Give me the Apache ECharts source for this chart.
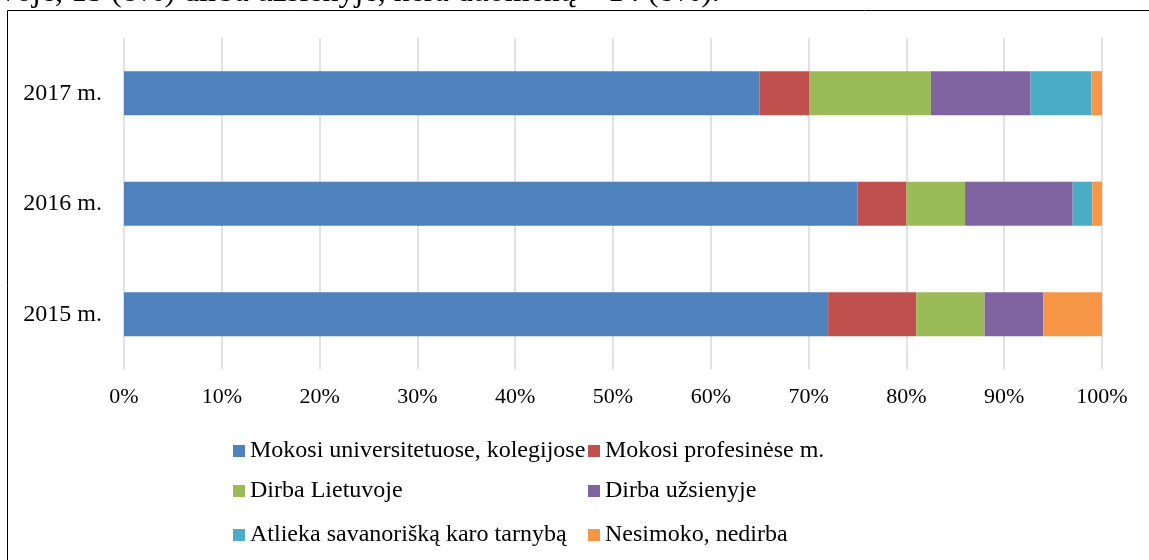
<!DOCTYPE html>
<html>
<head>
<meta charset="utf-8">
<title>Abiturientų veikla</title>
<script src="https://cdn.jsdelivr.net/npm/echarts@6/dist/echarts.min.js"></script>
<style>
  html, body { margin: 0; padding: 0; background: #fff; }
  #chart { width: 1149px; height: 560px; }
</style>
</head>
<body>
<div id="chart"></div>
<script>
// Years on the category axis (bottom to top)
var categories = ['2015 m.', '2016 m.', '2017 m.'];

// Share of graduates (%) by activity, per year
var studyUniversity = [72, 75, 65];
var studyVocational = [9, 5, 5.1];
var workLithuania = [7, 6, 12.4];
var workAbroad = [6, 11, 10.2];
var militaryService = [0, 2, 6.2];
var notStudyingOrWorking = [6, 1, 1.1];

var seriesNames = [
  'Mokosi universitetuose, kolegijose',
  'Mokosi profesinėse m.',
  'Dirba Lietuvoje',
  'Dirba užsienyje',
  'Atlieka savanorišką karo tarnybą',
  'Nesimoko, nedirba'
];
var seriesValues = [studyUniversity, studyVocational, workLithuania, workAbroad, militaryService, notStudyingOrWorking];
var colors = ['#4F81BD', '#C0504D', '#9BBB59', '#8064A2', '#4BACC6', '#F79646'];

var xTicks = { min: 0, max: 100, interval: 10 };
var fontFamily = '"Liberation Serif", "Times New Roman", serif';

// Legend laid out in two columns, three rows
var legendCols = [233, 588];
var legendRows = [439, 479, 523];

var legends = seriesNames.map(function (name, i) {
  return {
    left: legendCols[i % 2],
    top: legendRows[Math.floor(i / 2)],
    data: [name],
    icon: 'rect',
    itemWidth: 12,
    itemHeight: 12,
    selectedMode: false,
    padding: 0,
    textStyle: { fontFamily: fontFamily, fontSize: 24, color: '#000' }
  };
});

var chart = echarts.init(document.getElementById('chart'), null, { renderer: 'canvas' });

chart.setOption({
  animation: false,
  color: colors,
  textStyle: { fontFamily: fontFamily },
  graphic: [
    {
      type: 'rect',
      shape: { x: 7.5, y: 10.5, width: 1300, height: 700 },
      style: { fill: 'none', stroke: '#000', lineWidth: 1 },
      silent: true
    },
    {
      type: 'text',
      style: {
        x: 0,
        y: -7,
        text: 'voje, 15 (8%) dirba užsienyje, nėra duomenų – 14 (8%).',
        font: '32px ' + fontFamily,
        fill: '#000',
        verticalAlign: 'middle'
      },
      silent: true
    }
  ],
  legend: legends,
  grid: { left: 124, right: 47, top: 38, bottom: 190.5, containLabel: false },
  xAxis: {
    type: 'value',
    min: xTicks.min,
    max: xTicks.max,
    interval: xTicks.interval,
    axisLine: { show: false },
    axisTick: { show: false },
    axisLabel: {
      formatter: '{value}%',
      fontFamily: fontFamily,
      fontSize: 22,
      color: '#000',
      margin: 17
    },
    splitLine: { show: true, lineStyle: { color: '#d9d9d9', width: 1.5 } }
  },
  yAxis: {
    type: 'category',
    data: categories,
    axisLine: { show: false },
    axisTick: { show: false },
    axisLabel: {
      fontFamily: fontFamily,
      fontSize: 24,
      color: '#000',
      margin: 22
    }
  },
  series: seriesNames.map(function (name, i) {
    return {
      name: name,
      type: 'bar',
      stack: 'total',
      barCategoryGap: '60%',
      data: seriesValues[i],
      itemStyle: { color: colors[i] }
    };
  })
});
</script>
</body>
</html>
